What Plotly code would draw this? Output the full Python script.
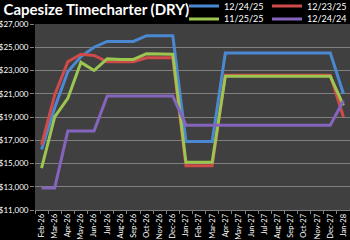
import plotly.graph_objects as go

months = ["Feb-26", "Mar-26", "Apr-26", "May-26", "Jun-26", "Jul-26", "Aug-26", "Sep-26",
          "Oct-26", "Nov-26", "Dec-26", "Jan-27", "Feb-27", "Mar-27", "Apr-27", "May-27",
          "Jun-27", "Jul-27", "Aug-27", "Sep-27", "Oct-27", "Nov-27", "Dec-27", "Jan-28"]

s_122425 = [16200, 19800, 22900, 24200, 25000, 25500, 25500, 25500, 26000, 26000, 26000,
            16900, 16900, 16900, 24500, 24500, 24500, 24500, 24500, 24500, 24500, 24500, 24500, 21000]
s_122325 = [16600, 20900, 23750, 24400, 24300, 23750, 23750, 23750, 24100, 24100, 24100,
            14800, 14800, 14800, 22600, 22600, 22600, 22600, 22600, 22600, 22600, 22600, 22600, 19000]
s_112525 = [14600, 19000, 20600, 23700, 23000, 24000, 23950, 23950, 24450, 24450, 24400,
            15100, 15100, 15100, 22500, 22500, 22500, 22500, 22500, 22500, 22500, 22500, 22500, 20000]
s_122424 = [12900, 12900, 17800, 17800, 17800, 20800, 20800, 20800, 20800, 20800, 20800,
            18300, 18300, 18300, 18300, 18300, 18300, 18300, 18300, 18300, 18300, 18300, 18300, 20400]

y_ticks = [11000, 13000, 15000, 17000, 19000, 21000, 23000, 25000, 27000]
y_labels = ["$11,000", "$13,000", "$15,000", "$17,000", "$19,000", "$21,000", "$23,000", "$25,000", "$27,000"]

series = [
    ("12/24/25", s_122425, "#4A88D2", "legend"),
    ("12/23/25", s_122325, "#D04A4A", "legend"),
    ("11/25/25", s_112525, "#9DC650", "legend2"),
    ("12/24/24", s_122424, "#8464BC", "legend2"),
]

fig = go.Figure()
for name, vals, color, lg in series:
    fig.add_trace(go.Scatter(x=months, y=vals, name=name, mode="lines",
                             line=dict(color=color, width=3), legend=lg))

font_family = "Lato"
legend_common = dict(orientation="h", xanchor="right", x=1.0, xref="container",
                     yanchor="middle", yref="container",
                     font=dict(family=font_family, size=9, color="#FFFFFF"),
                     bgcolor="rgba(0,0,0,0)", entrywidth=38, itemwidth=30,
                     tracegroupgap=0, borderwidth=0)

fig.update_layout(
    width=350, height=240,
    paper_bgcolor="#000000", plot_bgcolor="#404040",
    margin=dict(l=35, r=0, t=24, b=30, pad=0, autoexpand=False),
    title=dict(text="<b>Capesize Timecharter (DRY)</b>", x=0.01, xref="container", xanchor="left",
               y=0.96, yref="container", yanchor="middle",
               font=dict(family=font_family, size=15, color="#FFFFFF")),
    legend=dict(y=0.975, **legend_common),
    legend2=dict(y=0.921, **legend_common),
    showlegend=True,
    xaxis=dict(type="category", tickangle=-90, tickson="boundaries", ticks="outside",
               ticklen=3, tickcolor="#808080", showgrid=False, showline=True,
               linecolor="#808080", linewidth=1,
               tickfont=dict(family=font_family, size=7.5, color="#FFFFFF"),
               range=[-0.5, 23.5]),
    yaxis=dict(range=[11000, 27000], tickvals=y_ticks, ticktext=y_labels,
               ticks="outside", ticklen=4, tickcolor="#808080",
               showgrid=True, gridcolor="#808080", gridwidth=1,
               showline=False, zeroline=False,
               tickfont=dict(family=font_family, size=8, color="#FFFFFF")),
)

fig.write_html("out.html")
